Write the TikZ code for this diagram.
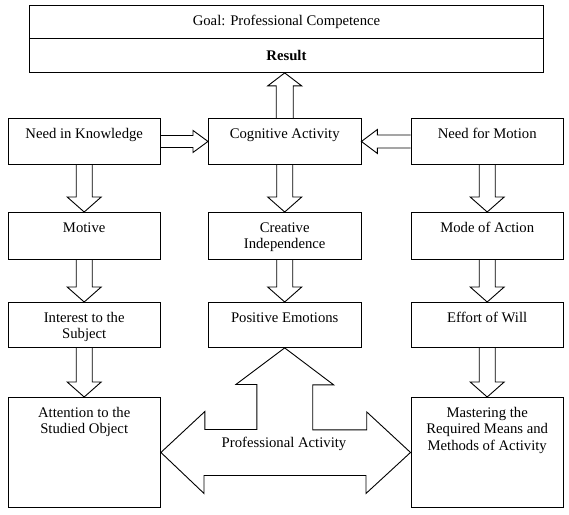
\documentclass[tikz,border=0pt]{standalone}
\usepackage{fontspec}
\setmainfont{Liberation Serif}
\usetikzlibrary{positioning, calc}

% hollow block arrow: start, tip, shaft half width, head half width, head length
\newcommand{\blkarrow}[5]{%
  \coordinate (hd) at ($(#2)!#5pt!(#1)$);
  \draw[blk] ($(#1)!#3pt!90:(#2)$) -- ($(hd)!#3pt!90:(#2)$) -- ($(hd)!#4pt!90:(#2)$) -- (#2)
    -- ($(hd)!#4pt!-90:(#2)$) -- ($(hd)!#3pt!-90:(#2)$) -- ($(#1)!#3pt!-90:(#2)$);}

\begin{document}
\begin{tikzpicture}[
        x=1pt, y=-1pt, line width=0.9pt,
        font=\fontsize{14.7}{16.2}\selectfont,
        box/.style={draw, anchor=north west, minimum width=152.5, minimum height=46, inner sep=0pt},
        txt/.style={anchor=north, inner sep=0pt, align=center, yshift=-10pt},
        blk/.style={draw, line join=miter}]
        \useasboundingbox (0,0) rectangle (569,514);
        % goal and result
        \node[box, minimum width=514, minimum height=33] (goal) at (29,5) {Goal: Professional Competence};
        \node[box, minimum width=514, minimum height=34] (res) at (29,38) {\textbf{Result}};
        % first row
        \node[box] (know) at (7.5,118) {};
        \node[txt] (know-t) at (know.north) {Need in Knowledge};
        \node[box] (cog) at (208,118) {};
        \node[txt] (cog-t) at (cog.north) {Cognitive Activity};
        \node[box] (mot) at (410.5,118) {};
        \node[txt] (mot-t) at (mot.north) {Need for Motion};
        % second row
        \node[box, minimum height=47] (motv) at (7.5,212) {};
        \node[txt] (motv-t) at (motv.north) {Motive};
        \node[box, minimum height=47] (crea) at (208,212) {};
        \node[txt] (crea-t) at (crea.north) {Creative\\Independence};
        \node[box, minimum height=47] (mode) at (410.5,212) {};
        \node[txt] (mode-t) at (mode.north) {Mode of Action};
        % third row
        \node[box, minimum height=45] (intr) at (7.5,302) {};
        \node[txt] (intr-t) at (intr.north) {Interest to the\\Subject};
        \node[box, minimum height=45] (emo) at (208,302) {};
        \node[txt] (emo-t) at (emo.north) {Positive Emotions};
        \node[box, minimum height=45] (eff) at (410.5,302) {};
        \node[txt] (eff-t) at (eff.north) {Effort of Will};
        % fourth row
        \node[box, minimum height=110] (att) at (7.5,397) {};
        \node[txt] (att-t) at (att.north) {Attention to the\\Studied Object};
        \node[box, minimum height=110] (mast) at (410.5,397) {};
        \node[txt] (mast-t) at (mast.north) {Mastering the\\Required Means and\\Methods of Activity};
        % block arrows
        \coordinate (up) at (cog.north |- res.south);
        \blkarrow{cog.north}{up}{8.5}{17}{13}
        \blkarrow{know.east}{cog.west}{6}{11}{15}
        \blkarrow{mot.west}{cog.east}{6.5}{12}{16}
        \blkarrow{know.south}{motv.north}{8}{17}{15}
        \blkarrow{cog.south}{crea.north}{8}{17}{15}
        \blkarrow{mot.south}{mode.north}{8}{17}{15}
        \blkarrow{motv.south}{intr.north}{8}{17}{15}
        \blkarrow{crea.south}{emo.north}{8}{17}{15}
        \blkarrow{mode.south}{eff.north}{8}{17}{15}
        \blkarrow{intr.south}{att.north}{8}{17}{15}
        \blkarrow{eff.south}{mast.north}{8}{17}{15}
        % professional activity
        \draw[blk] (emo.south) -- ++(49,37) -- ++(-21,0) -- ++(0,45) -- ++(54,0) -- ++(0,-18)
          -- (mast.west) -- ++(-44.5,41) -- ++(0,-18) -- ++(-162,0) -- ++(0,18)
          -- (att.east) -- ++(44,-41) -- ++(0,18) -- ++(52,0) -- ++(0,-45) -- ++(-21,0) -- cycle;
        \node (pa) at (284,444) {Professional Activity};
      \end{tikzpicture}
\end{document}
